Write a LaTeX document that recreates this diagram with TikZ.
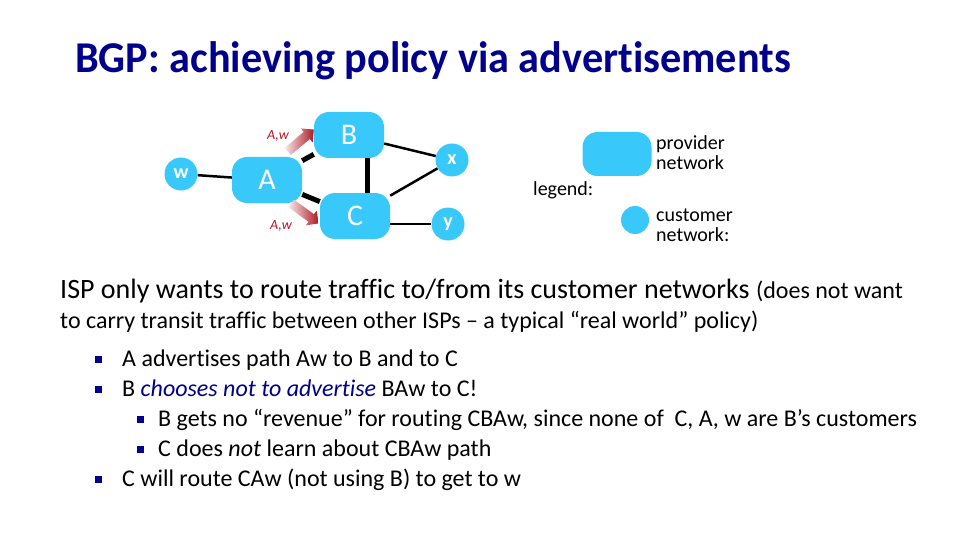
\documentclass[tikz,border=0pt]{standalone}
\usepackage{fontspec}
\setmainfont{Carlito}[Ligatures=NoCommon]
\newfontfamily\titlefont[FakeStretch=0.96,Ligatures=NoCommon]{Carlito}
\usetikzlibrary{shapes.arrows,backgrounds}
\definecolor{netblue}{RGB}{56,200,250}
\definecolor{titleblue}{RGB}{0,0,140}
\definecolor{advred}{RGB}{175,25,35}
\tikzset{
  provider/.style={fill=netblue, rounded corners=15pt, minimum width=70pt, minimum height=46pt,
    text=white, font=\fontsize{30}{32}\selectfont},
  customer/.style={circle, fill=netblue, minimum size=33pt, inner sep=0pt,
    text=white, font=\bfseries\fontsize{20}{22}\selectfont},
  thinlink/.style={line width=2.5pt},
  thicklink/.style={line width=5pt},
  adv/.style={single arrow, minimum height=34pt, minimum width=18pt, inner xsep=0pt, inner ysep=4.5pt,
    single arrow head extend=4.5pt, left color=advred!10, right color=advred},
  advlabel/.style={text=advred, font=\itshape\fontsize{14}{16}\selectfont},
  bodytext/.style={anchor=base west, inner sep=0pt, font=\fontsize{24}{28}\selectfont},
  legendtext/.style={anchor=base west, align=left, inner sep=0pt, font=\fontsize{20}{20}\selectfont},
  bulletbox/.style={fill=titleblue, minimum size=7pt, inner sep=0pt},
}
\begin{document}
\begin{tikzpicture}[x=1pt,y=-1pt]
\useasboundingbox (0,0) rectangle (960,540);
% title
\node[anchor=base west, inner sep=0pt, text=titleblue, font=\titlefont\bfseries\fontsize{44}{48}\selectfont] (title) at (75,73) {BGP: achieving policy via advertisements};
% networks
\node[customer] (w) at (181,174) {w};
\node[provider] (A) at (267,180) {A};
\node[provider] (B) at (349,135) {B};
\node[provider] (C) at (355,216) {C};
\node[customer] (x) at (452,160) {x};
\node[customer] (y) at (448,224) {y};
\begin{scope}[on background layer]
  \draw[thinlink] (w) -- (A);
  \draw[thicklink] (A) -- (B);
  \draw[thicklink] (A) -- (C);
  \draw[thicklink] ([xshift=18pt]B.center) -- ([xshift=12pt]C.center);
  \draw[thinlink] (B) -- (x);
  \draw[thinlink] (C) -- (x);
  \draw[thinlink] ([yshift=-8pt]C.center) -- (y);
\end{scope}
% advertisements
\node[adv, rotate=40] (advB) at (299,142) {};
\node[adv, rotate=-36] (advC) at (303,212) {};
\node[advlabel] (lblB) at (278,136) {A,w};
\node[advlabel] (lblC) at (281,226) {A,w};
% legend
\node[legendtext] (legend) at (533,195) {legend:};
\node[provider, minimum width=69pt, minimum height=44pt] (prov) at (617,154) {};
\node[customer, minimum size=28pt] (cust) at (635,220) {};
\node[legendtext] (provtxt) at (656,170) {provider\\network};
\node[legendtext] (custtxt) at (656,241) {customer\\network:};
% text
\node[bodytext, font=\fontsize{28}{32}\selectfont] (l1) at (60,298) {ISP only wants to route traffic to/from its customer networks \fontsize{24}{28}\selectfont(does not want};
\node[bodytext] (l2) at (60,328) {to carry transit traffic between other ISPs -- a typical “real world” policy)};
\foreach \ypos/\xb/\xt/\txt in {
  366/98/122/{A advertises path Aw to B and to C},
  396/98/122/{B \textcolor{titleblue}{\itshape chooses not to advertise} BAw to C!},
  426/140/158/{B gets no “revenue” for routing CBAw, since none of~ C, A, w are B’s customers},
  456/140/158/{C does \textit{not} learn about CBAw path},
  486/98/122/{C will route CAw (not using B) to get to w}}{
  \node[bulletbox] at (\xb,\ypos-7) {};
  \node[bodytext] at (\xt,\ypos) {\txt};
}
\end{tikzpicture}
\end{document}
